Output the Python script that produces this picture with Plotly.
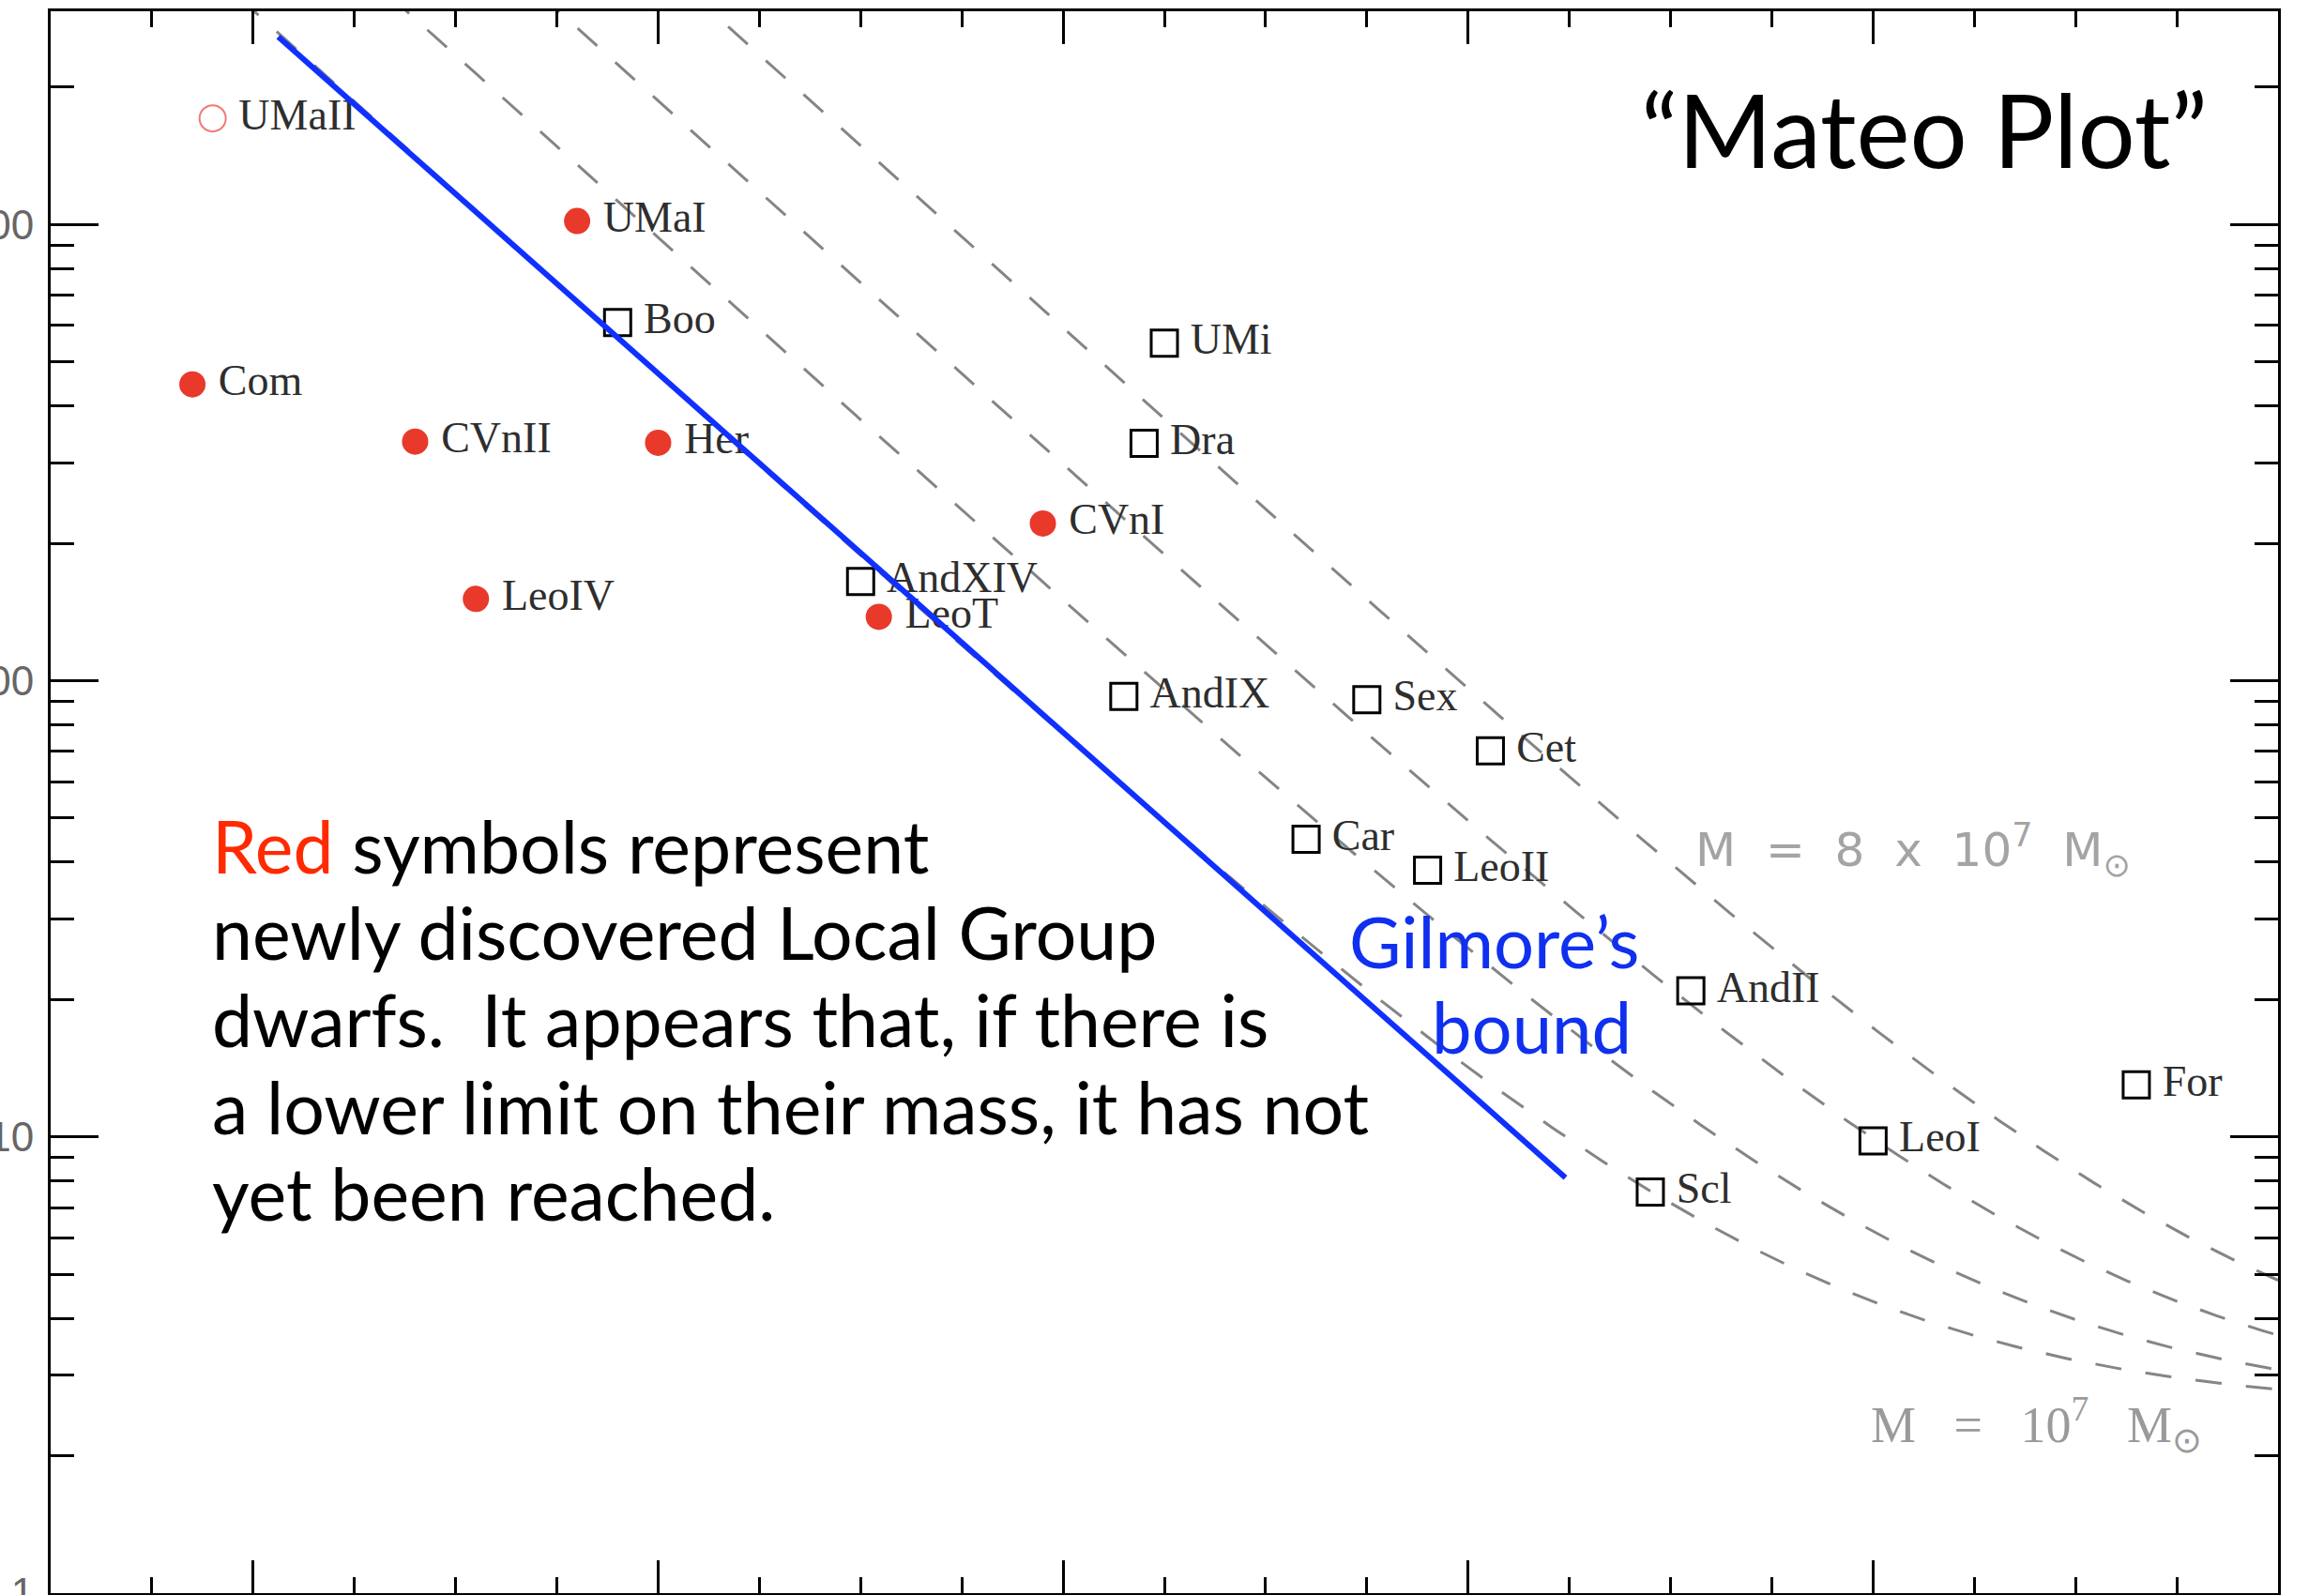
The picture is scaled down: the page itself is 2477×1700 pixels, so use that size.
import numpy as np
import plotly.graph_objects as go

# ---- Dwarf galaxies: absolute magnitude M_V and mass-to-light ratio (M/L)
new_names = ["UMaI", "Com", "CVnII", "Her", "LeoIV", "LeoT", "CVnI"]
new_mv = [-5.60, -3.70, -4.80, -6.00, -5.10, -7.09, -7.90]
new_ml = [1017, 446, 334, 332, 151, 138, 221]

tentative_names = ["UMaII"]
tentative_mv = [-3.80]
tentative_ml = [1707]

known_names = ["Boo", "UMi", "Dra", "AndXIV", "AndIX", "Sex", "Cet",
               "Car", "LeoII", "AndII", "LeoI", "Scl", "For"]
known_mv = [-5.80, -8.50, -8.40, -7.00, -8.30, -9.50, -10.11,
            -9.20, -9.80, -11.10, -12.00, -10.90, -13.30]
known_ml = [609, 549, 331, 165, 92.3, 90.8, 70.2,
            44.9, 38.4, 20.9, 9.80, 7.57, 13.0]

# ---- Lines of constant total mass (Mateo 1998 form): M/L = (M/L)_stars + M_dm / L_V
halo_masses = [1e7, 2e7, 4e7, 8e7]
stellar_ml = 2.5
sun_mv = 4.83

# ---- Gilmore's bound (end points in M_V, M/L)
gilmore_mv = [-4.124, -10.481]
gilmore_ml = [2577, 8.14]

# ---- Text
note_lines = [
    "<span style='color:#ff2a00'>Red</span> symbols represent",
    "newly discovered Local Group",
    "dwarfs.\u00a0 It appears that, if there is",
    "a lower limit on their mass, it has not",
    "yet been reached.",
]

W, H = 2477, 1700
ML, MR, MT, MB = 54, 49, 12, 2


def px(x):
    return (x - ML) / (W - ML - MR)


def py(y):
    return (H - MB - y) / (H - MT - MB)


def padded(names):
    # small gap between a symbol and its name
    return ["\u2009" + n for n in names]


fig = go.Figure()

mv_grid = np.linspace(-3.0, -14.0, 400)
lum = 10 ** (-0.4 * (mv_grid - sun_mv))
for m in halo_masses:
    fig.add_trace(go.Scatter(
        x=mv_grid, y=stellar_ml + m / lum, mode="lines",
        line=dict(color="#858585", width=3, dash="28px,26px"),
        hoverinfo="skip"))

label_font = dict(family="Liberation Serif", size=46, color="#2e2e2e")

fig.add_trace(go.Scatter(
    x=known_mv, y=known_ml, mode="markers+text", text=padded(known_names),
    textposition="middle right", textfont=label_font,
    marker=dict(symbol="square-open", size=28, color="black",
                line=dict(width=3, color="black"))))

fig.add_trace(go.Scatter(
    x=new_mv, y=new_ml, mode="markers+text", text=padded(new_names),
    textposition="middle right", textfont=label_font,
    marker=dict(symbol="circle", size=28, color="#e8392b")))

fig.add_trace(go.Scatter(
    x=tentative_mv, y=tentative_ml, mode="markers+text", text=padded(tentative_names),
    textposition="middle right", textfont=label_font,
    marker=dict(symbol="circle-open", size=28, color="#f07a74",
                line=dict(width=2, color="#f07a74"))))

fig.add_trace(go.Scatter(
    x=gilmore_mv, y=gilmore_ml, mode="lines",
    line=dict(color="#1030ff", width=6)))

annotations = []
baselines = [930, 1022, 1115, 1208, 1300]
for text, base in zip(note_lines, baselines):
    annotations.append(dict(
        text=text, x=px(224), y=py(base - 29), xref="paper", yref="paper",
        xanchor="left", yanchor="middle", showarrow=False,
        font=dict(family="Lato", size=77, color="black")))

annotations.append(dict(
    text="\u201cMateo Plot\u201d", x=px(2355), y=py(137), xref="paper", yref="paper",
    xanchor="right", yanchor="middle", showarrow=False,
    font=dict(family="Lato", size=108, color="black")))

for text, right, base in [("Gilmore\u2019s", 1749, 1031), ("bound", 1741, 1122)]:
    annotations.append(dict(
        text=text, x=px(right), y=py(base - 29), xref="paper", yref="paper",
        xanchor="right", yanchor="middle", showarrow=False,
        font=dict(family="Lato", size=76, color="#1030f0")))

sp2 = "\u00a0\u00a0"
sp3 = "\u00a0\u00a0\u00a0"
annotations.append(dict(
    text=f"M{sp2}={sp2}8{sp2}x{sp2}10<sup>7</sup>{sp2}M<sub>\u2299</sub>",
    x=px(1805), y=py(906), xref="paper", yref="paper",
    xanchor="left", yanchor="middle", showarrow=False,
    font=dict(family="DejaVu Sans", size=50, color="#a4a4a4")))

annotations.append(dict(
    text=f"M{sp3}={sp3}10<sup>7</sup>{sp3}M<sub>\u2299</sub>",
    x=px(1992), y=py(1518), xref="paper", yref="paper",
    xanchor="left", yanchor="middle", showarrow=False,
    font=dict(family="Liberation Serif", size=54, color="#9a9a9a")))

axis_common = dict(
    showline=True, linewidth=3, linecolor="black", mirror="ticks",
    ticks="inside", tickwidth=3, tickcolor="black",
    showgrid=False, zeroline=False,
)

fig.update_layout(
    width=W, height=H,
    margin=dict(l=ML, r=MR, t=MT, b=MB, autoexpand=False),
    paper_bgcolor="white", plot_bgcolor="white",
    showlegend=False,
    annotations=annotations,
    xaxis=dict(
        range=[-3, -14], tick0=0, dtick=2, ticklen=35,
        showticklabels=False,
        minor=dict(ticks="inside", dtick=0.5, ticklen=17, tickwidth=3,
                   tickcolor="black", showgrid=False),
        **axis_common),
    yaxis=dict(
        type="log", range=[0, 3.467], dtick=1, ticklen=51,
        exponentformat="none",
        tickfont=dict(family="Liberation Sans", size=44, color="#666666"),
        ticklabelstandoff=6, ticklabeloverflow="allow",
        minor=dict(ticks="inside", dtick="D1", ticklen=25, tickwidth=3,
                   tickcolor="black", showgrid=False),
        **axis_common),
)

fig.write_html("out.html")
